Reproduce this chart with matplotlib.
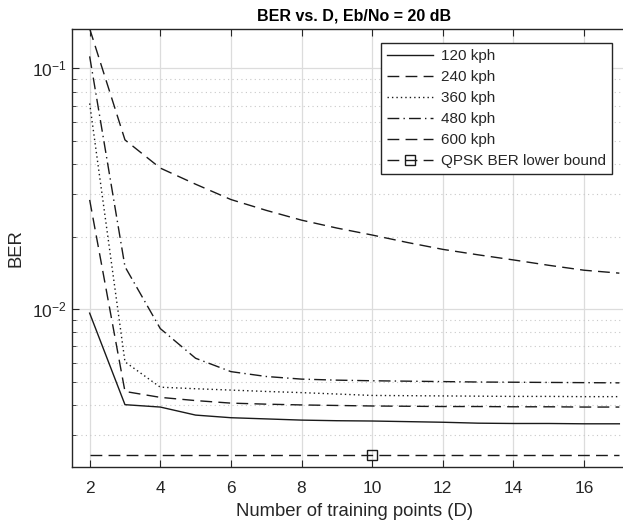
import matplotlib
matplotlib.use("Agg")
import matplotlib.pyplot as plt
from matplotlib.ticker import LogLocator, NullFormatter, FixedLocator

plt.rcParams['font.family'] = ['Liberation Sans', 'DejaVu Sans']
plt.rcParams['mathtext.fontset'] = 'custom'
plt.rcParams['mathtext.rm'] = 'Liberation Sans'

D = [2, 3, 4, 5, 6, 7, 8, 9, 10, 11, 12, 13, 14, 15, 16, 17]

ber_120 = [0.00962, 0.00401, 0.00392, 0.00363, 0.00354, 0.00350, 0.00346, 0.00344,
           0.00343, 0.00341, 0.00339, 0.00336, 0.00335, 0.00335, 0.00334, 0.00334]
ber_240 = [0.0284, 0.00455, 0.00430, 0.00417, 0.00407, 0.00403, 0.00400, 0.00398,
           0.00396, 0.00395, 0.00394, 0.00394, 0.00393, 0.00393, 0.00392, 0.00392]
ber_360 = [0.0714, 0.00604, 0.00474, 0.00467, 0.00461, 0.00455, 0.00450, 0.00444,
           0.00438, 0.00437, 0.00436, 0.00435, 0.00434, 0.00434, 0.00433, 0.00433]
ber_480 = [0.112, 0.0150, 0.0083, 0.00625, 0.0055, 0.00525, 0.00512, 0.00507,
           0.00504, 0.00502, 0.00500, 0.00498, 0.00497, 0.00496, 0.00495, 0.00494]
ber_600 = [0.146, 0.0504, 0.0385, 0.0330, 0.0285, 0.0257, 0.0234, 0.0217,
           0.0203, 0.0189, 0.0177, 0.0168, 0.0160, 0.0152, 0.0145, 0.0141]
ber_bound = [0.00248] * len(D)

labels = ['120 kph', '240 kph', '360 kph', '480 kph', '600 kph', 'QPSK BER lower bound']

c = '#1a1a1a'
W, H = 623, 525
fig = plt.figure(figsize=(W / 100, H / 100), dpi=100)
ax = fig.add_axes([72 / W, 58 / H, (637 - 72) / W, (467 - 29) / H])

lw = 1.0
ax.plot(D, ber_120, color=c, lw=lw, linestyle='-', label=labels[0])
ax.plot(D, ber_240, color=c, lw=lw, linestyle=(0, (8.5, 4.5)), label=labels[1])
ax.plot(D, ber_360, color=c, lw=lw, linestyle=(0, (1, 2.2)), label=labels[2])
ax.plot(D, ber_480, color=c, lw=lw, linestyle=(0, (8.5, 3, 1, 3)), label=labels[3])
ax.plot(D, ber_600, color=c, lw=lw, linestyle=(0, (8.5, 4.5)), label=labels[4])
ax.plot(D, ber_bound, color=c, lw=lw, linestyle=(0, (8.5, 4.5)), marker='s',
        markersize=7, markerfacecolor='none', markeredgecolor=c, markeredgewidth=1.0,
        markevery=[D.index(10)], label=labels[5])

ax.set_yscale('log')
ax.set_xlim(1.5, 17.5)
ax.set_ylim(0.00221, 0.1455)
ax.xaxis.set_major_locator(FixedLocator([2, 4, 6, 8, 10, 12, 14, 16]))
ax.yaxis.set_major_locator(LogLocator(base=10, numticks=10))
ax.yaxis.set_minor_locator(LogLocator(base=10, subs=range(2, 10), numticks=20))
ax.yaxis.set_minor_formatter(NullFormatter())

ax.grid(True, which='major', axis='both', color='#dcdcdc', lw=0.9, linestyle='-')
ax.grid(True, which='minor', axis='y', color='#c8c8c8', lw=0.8, linestyle=(0, (1, 3)))
ax.set_axisbelow(True)

ax.tick_params(which='both', direction='in', top=True, right=False, colors='#262626',
               labelsize=12.5)
ax.tick_params(which='major', length=5)
ax.tick_params(which='minor', length=3)
ax.tick_params(axis='x', which='major', pad=10)
ax.tick_params(axis='y', which='major', pad=4)
for s in ['left', 'bottom', 'top', 'right']:
    ax.spines[s].set_color('#262626')
    ax.spines[s].set_linewidth(1.0)

ax.set_xlabel('Number of training points (D)', fontsize=13.3, color='#262626', labelpad=5)
ax.set_ylabel('BER', fontsize=13.3, color='#262626', labelpad=5)
ax.set_title('BER vs. D, Eb/No = 20 dB', fontsize=11.5, fontweight='bold', color='#000000', pad=6)

leg = ax.legend(loc='upper right', bbox_to_anchor=(612 / W, 1 - 43 / H),
                bbox_transform=fig.transFigure, borderaxespad=0, fontsize=11,
                frameon=True, fancybox=False, framealpha=1, edgecolor='#262626',
                handlelength=3.0, handletextpad=0.5, labelspacing=0.46,
                borderpad=0.4)
leg.get_frame().set_linewidth(1.0)
for t in leg.get_texts():
    t.set_color('#262626')

fig.savefig('out.png', dpi=100)
